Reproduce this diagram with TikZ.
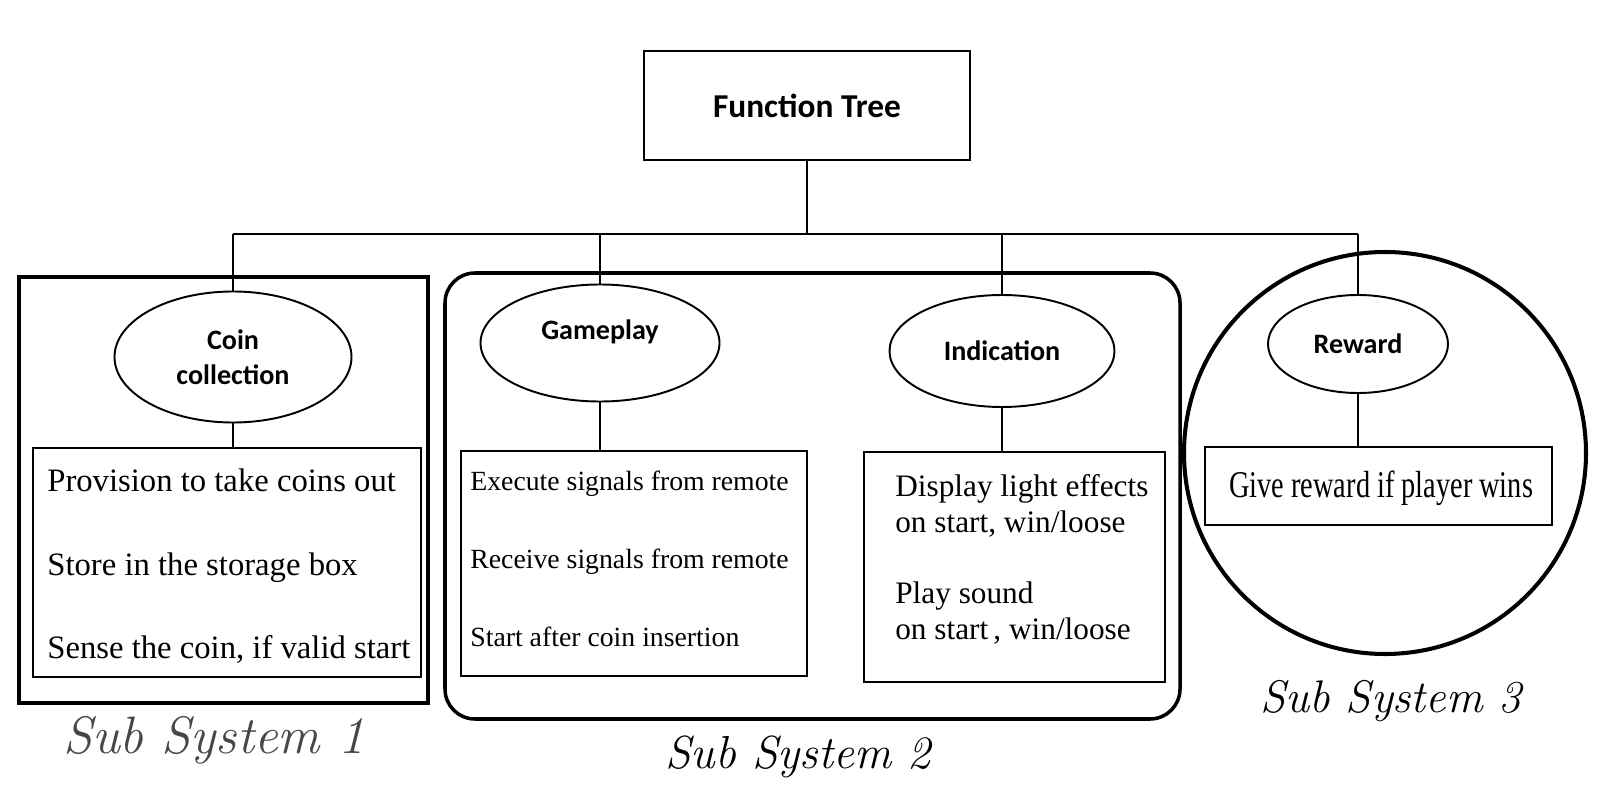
\documentclass[tikz,border=0pt]{standalone}
\usepackage{fontspec}
\setmainfont{Liberation Serif}
\newfontfamily\labelfont{Carlito}
\newfontfamily\rewardfont[FakeStretch=0.75]{Liberation Serif}
\newfontfamily\handfont{Latin Modern Roman}
\usetikzlibrary{shapes.geometric}
\usetikzlibrary{positioning}
\newcommand\px[1]{#1*0.02cm}
\tikzset{%
  treebox/.style={rectangle,draw,line width=1.4pt,inner sep=0pt},
  funcellipse/.style={ellipse,draw,line width=1.1pt,inner sep=0pt,align=center,
    font=\labelfont\bfseries\fontsize{16}{20}\selectfont},
  listbox/.style={rectangle,draw,line width=1.2pt,inner sep=0pt},
  listtext/.style={anchor=north west,inner sep=0pt,align=left},
  link/.style={line width=1.1pt},
  sslabel/.style={anchor=base,inner sep=0pt,font=\handfont\itshape}
}
\begin{document}
\begin{tikzpicture}[x=0.02cm,y=-0.02cm]
    \useasboundingbox (0,0) rectangle (1600,797);
    % top of the tree
    \node[treebox,minimum width=\px{326},minimum height=\px{109},
        font=\labelfont\bfseries\fontsize{19}{23}\selectfont] (ftree) at (807,105.5) {Function Tree};
    \coordinate (busL) at (233,234);
    \coordinate (busR) at (1358,234);
    % functions
    \node[funcellipse,minimum width=\px{237},minimum height=\px{131}] (coin) at (233,357) {Coin\\collection};
    \node[funcellipse,minimum width=\px{239},minimum height=\px{117},
        text height=\px{20},text depth=\px{28}] (gameplay) at (600,343) {Gameplay};
    \node[funcellipse,minimum width=\px{225},minimum height=\px{112}] (indication) at (1002,351) {Indication};
    \node[funcellipse,minimum width=\px{180},minimum height=\px{98}] (reward) at (1358,344) {Reward};
    % lists
    \node[listbox,minimum width=\px{388},minimum height=\px{229}] (coinbox) at (227,562.5) {};
    \node[listbox,minimum width=\px{346},minimum height=\px{225}] (gamebox) at (634,563.5) {};
    \node[listbox,minimum width=\px{301},minimum height=\px{230}] (indbox) at (1014.5,567) {};
    \node[listbox,minimum width=\px{347},minimum height=\px{78}] (rewbox) at (1378.5,486) {};
    \node[listtext,font=\fontsize{18.6}{47.8}\selectfont] (cointext) at (47,468)
        {Provision to take coins out\\Store in the storage box\\Sense the coin, if valid start};
    \node[listtext,font=\fontsize{15.8}{44.4}\selectfont] (gametext) at (470,471)
        {Execute signals from remote\\Receive signals from remote\\Start after coin insertion};
    \node[listtext,font=\fontsize{17.8}{20.5}\selectfont] (indtext) at (895,474)
        {Display light effects\\on start, win/loose\\[19.9pt]Play sound\\on start\,, win/loose};
    \node[listtext,font=\rewardfont\fontsize{21.5}{26}\selectfont] (rewtext) at (1229,471)
        {Give reward if player wins};
    % connectors
    \draw[link] (ftree.south) -- (ftree.south |- busL);
    \draw[link] (busL) -- (busR);
    \draw[link] (busL) -- (coin.north);
    \draw[link] (gameplay.north |- busL) -- (gameplay.north);
    \draw[link] (indication.north |- busL) -- (indication.north);
    \draw[link] (busR) -- (reward.north);
    \draw[link] (coin.south) -- (coin.south |- coinbox.north);
    \draw[link] (gameplay.south) -- (gameplay.south |- gamebox.north);
    \draw[link] (indication.south) -- (indication.south |- indbox.north);
    \draw[link] (reward.south) -- (reward.south |- rewbox.north);
    % sub systems
    \draw[line width=2.8pt] (19,277) rectangle (428,703);
    \draw[line width=2pt,rounded corners=0.6cm] (445,273) rectangle (1180,719);
    \draw[line width=2.3pt] (1385,453) circle[radius=\px{201}];
    \node[sslabel,text=black!72,font=\handfont\itshape\fontsize{30}{36}\selectfont] (sub1) at (214,753) {Sub System 1};
    \node[sslabel,font=\handfont\itshape\fontsize{26.4}{32}\selectfont] (sub2) at (798,768) {Sub System 2};
    \node[sslabel,font=\handfont\itshape\fontsize{26}{32}\selectfont] (sub3) at (1391,712) {Sub System 3};
\end{tikzpicture}
\end{document}
